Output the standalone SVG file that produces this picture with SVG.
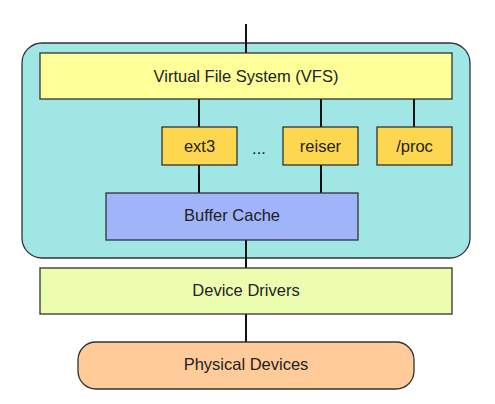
<svg xmlns="http://www.w3.org/2000/svg" width="495" height="404" viewBox="0 0 495 404">
<style>
.box{stroke:#333;stroke-width:1.3}
.t{font-family:"Liberation Sans",Arial,sans-serif;font-size:16.5px;fill:#222;text-anchor:middle;dominant-baseline:central}
.c{stroke:#111;stroke-width:2;fill:none}
</style>
<rect width="495" height="404" fill="#fff"/>
<g id="kernel"><rect class="box" x="22" y="43" width="448" height="215" rx="20" fill="#A0E6E4"/></g>
<g id="connectors">
<line class="c" x1="246" y1="24" x2="246" y2="53"/>
<line class="c" x1="199" y1="99" x2="199" y2="127"/>
<line class="c" x1="321" y1="99" x2="321" y2="127"/>
<line class="c" x1="414" y1="99" x2="414" y2="127"/>
<line class="c" x1="199" y1="165" x2="199" y2="193"/>
<line class="c" x1="321" y1="165" x2="321" y2="193"/>
<line class="c" x1="246" y1="240" x2="246" y2="268"/>
<line class="c" x1="246" y1="314" x2="246" y2="342"/>
</g>
<g id="vfs"><rect class="box" x="40" y="53" width="412" height="46" fill="#FFFF99"/><text class="t" x="246" y="76">Virtual File System (VFS)</text></g>
<g id="ext3"><rect class="box" x="162" y="127" width="75" height="38" fill="#FDD74F"/><text class="t" x="199.5" y="146">ext3</text></g>
<g id="dots"><text class="t" x="259" y="148" font-size="22">...</text></g>
<g id="reiser"><rect class="box" x="283" y="127" width="75" height="38" fill="#FDD74F"/><text class="t" x="320.5" y="146">reiser</text></g>
<g id="proc"><rect class="box" x="377" y="127" width="75" height="38" fill="#FDD74F"/><text class="t" x="414.5" y="146">/proc</text></g>
<g id="buffer"><rect class="box" x="106" y="193" width="252" height="47" fill="#A0B4FA"/><text class="t" x="232" y="215">Buffer Cache</text></g>
<g id="drivers"><rect class="box" x="40" y="268" width="412" height="46" fill="#EDFDB0"/><text class="t" x="246" y="290">Device Drivers</text></g>
<g id="physical"><rect class="box" x="78" y="342" width="336" height="47" rx="18" fill="#FFCC99"/><text class="t" x="246" y="364">Physical Devices</text></g>
</svg>
